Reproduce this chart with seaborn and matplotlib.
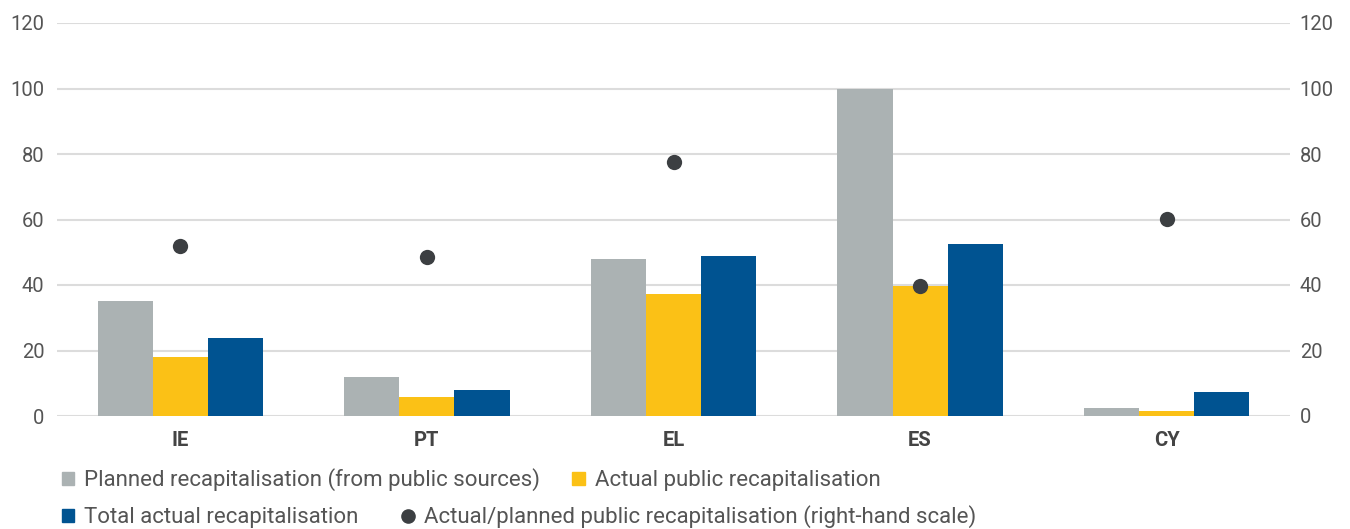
import matplotlib
matplotlib.use("Agg")
import matplotlib.pyplot as plt
from matplotlib.lines import Line2D
import seaborn as sns
import pandas as pd

countries = ["IE", "PT", "EL", "ES", "CY"]
planned = [35.0, 12.0, 48.0, 100.0, 2.3]
actual_public = [18.0, 5.8, 37.2, 39.7, 1.5]
total_actual = [23.8, 7.9, 48.9, 52.5, 7.4]
ratio = [52.0, 48.5, 77.6, 39.7, 60.2]

series_names = ["Planned recapitalisation (from public sources)",
                "Actual public recapitalisation",
                "Total actual recapitalisation"]
ratio_name = "Actual/planned public recapitalisation (right-hand scale)"
colors = ["#ABB2B3", "#FBC116", "#005391"]
dot_color = "#3C3F42"

sns.set_theme(style="white")
plt.rcParams["font.family"] = ["Roboto", "DejaVu Sans"]

df = pd.DataFrame({
    "country": countries * 3,
    "series": sum([[s] * len(countries) for s in series_names], []),
    "value": planned + actual_public + total_actual,
})

fig = plt.figure(figsize=(13.5, 5.29), dpi=100)
ax = fig.add_axes([57 / 1350, 1 - 416 / 529, (1290 - 57) / 1350, (416 - 23) / 529])

sns.barplot(data=df, x="country", y="value", hue="series", order=countries,
            hue_order=series_names, palette=colors, width=0.67, saturation=1,
            ax=ax, legend=False, linewidth=0)

ax.set_ylim(0, 120)
ax.set_yticks(range(0, 121, 20))
ax.set_xlim(-0.5, len(countries) - 0.5)
ax.grid(axis="y", color="#DCDCDC", linewidth=1.5)
ax.set_axisbelow(True)
for s in ax.spines.values():
    s.set_visible(False)
ax.set_xlabel("")
ax.set_ylabel("")
ax.tick_params(axis="y", labelsize=14.5, colors="#555555", length=0, pad=9)
ax.tick_params(axis="x", length=0, pad=11)
for lbl in ax.get_xticklabels():
    lbl.set_fontweight("bold")
    lbl.set_fontsize(14.5)
    lbl.set_color("#444444")

ax2 = ax.twinx()
sns.stripplot(x=countries, y=ratio, order=countries, jitter=False, color=dot_color,
              size=11, linewidth=0, ax=ax2, zorder=5)
ax2.set_ylim(0, 120)
ax2.set_yticks(range(0, 121, 20))
ax2.set_xlim(-0.5, len(countries) - 0.5)
for s in ax2.spines.values():
    s.set_visible(False)
ax2.set_ylabel("")
ax2.tick_params(axis="y", labelsize=14.5, colors="#555555", length=0, pad=7)
ax2.grid(False)

lkw = dict(frameon=False, fontsize=16, handlelength=0.55, handleheight=0.55,
           handletextpad=0.45, labelcolor="#555555", borderaxespad=0, borderpad=0)
h1 = [plt.Rectangle((0, 0), 1, 1, color=colors[0]),
      plt.Rectangle((0, 0), 1, 1, color=colors[1])]
fig.legend(h1, series_names[:2], loc="center left", ncol=2,
           bbox_to_anchor=(62 / 1350, 1 - 480 / 529), columnspacing=1.45, **lkw)
h2 = [plt.Rectangle((0, 0), 1, 1, color=colors[2]),
      Line2D([], [], marker="o", color=dot_color, linestyle="none", markersize=9.5)]
fig.legend(h2, [series_names[2], ratio_name], loc="center left", ncol=2,
           bbox_to_anchor=(62 / 1350, 1 - 517 / 529), columnspacing=1.94, **lkw)

fig.savefig("out.png", dpi=100)
